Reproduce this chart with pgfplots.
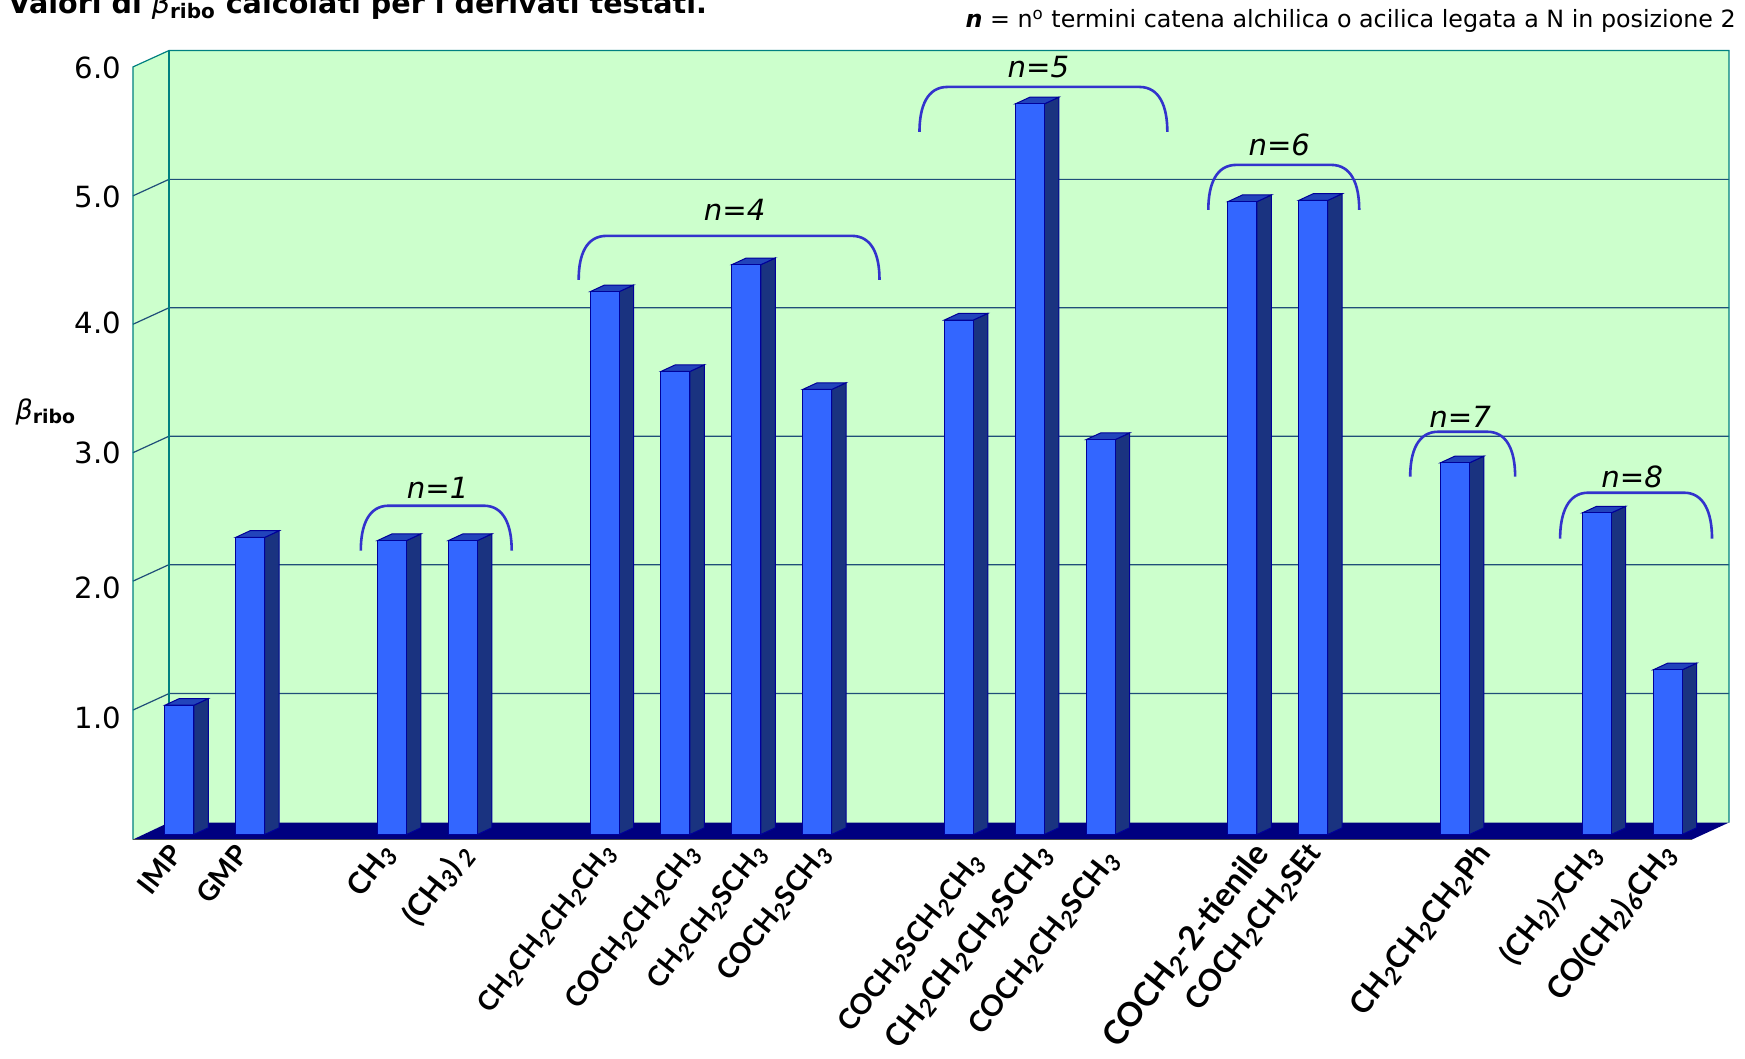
\documentclass[border=0pt]{standalone}
\usepackage{pgfplots}
\pgfplotsset{compat=1.18}
\usepackage{pgfplotstable}
\usepackage{fontspec}
\setmainfont{DejaVu Sans}
\newfontfamily\labfont{Lato}
\definecolor{wallc}{HTML}{CCFFCC}
\definecolor{tealc}{HTML}{008080}
\definecolor{gridc}{HTML}{1F4E79}
\definecolor{floorc}{HTML}{000080}
\definecolor{frontc}{HTML}{3366FF}
\definecolor{sidec}{HTML}{1A3380}
\definecolor{topc}{HTML}{2244BB}
\definecolor{edgec}{HTML}{000099}
\definecolor{brkc}{HTML}{3333CC}
\pgfplotstableread{
x v
0.655 1.005
1.655 2.31
3.655 2.285
4.655 2.285
6.655 4.22
7.655 3.60
8.655 4.43
9.655 3.46
11.655 4.00
12.655 5.68
13.655 3.07
15.655 4.92
16.655 4.93
18.655 2.89
20.655 2.50
21.655 1.28
}\betatable
\newcommand\sidebar[2]{%
 \addplot[draw=edgec,fill=sidec,line width=0.5pt] coordinates {({#1+0.2045},0) ({#1+0.4090},0.052) ({#1+0.4090},{#2+0.052}) ({#1+0.2045},{#2})} -- cycle;
 \addplot[draw=edgec,fill=topc,line width=0.5pt] coordinates {({#1-0.2045},{#2}) ({#1},{#2+0.052}) ({#1+0.4090},{#2+0.052}) ({#1+0.2045},{#2})} -- cycle;
}
\newcommand\s[1]{\raisebox{-0.32ex}{\scalebox{0.78}{\itshape #1}}}
\newcommand\lb[2]{{\labfont\bfseries\fontsize{#1}{#1}\selectfont #2}}
\newcommand\yl[2]{\raisebox{#1}[10.6pt][0pt]{#2}}
\newcommand\brk[6]{%
 \draw[brkc,line width=1.3pt] (#1,#3) .. controls (#1,{#3-26}) and ({#1+8},#4) .. ({#1+28},#4) -- ({#2-28},#4) .. controls ({#2-8},#4) and (#2,{#3-26}) .. (#2,#3);
 \node[font=\fontsize{14.6}{14.6}\selectfont\itshape,inner sep=0pt] at #5 {n=#6};
}
\begin{document}
\begin{tikzpicture}
\useasboundingbox (-66.5pt,-109.7pt) rectangle (806.5pt,420pt);
\begin{scope}[x=0.5pt,y=-0.5pt,shift={(-133,-840)}]
 \fill[wallc] (169,50.6) rectangle (1730,823);
 \fill[wallc] (133,67) -- (169,50.6) -- (169,823) -- (133,840) -- cycle;
 \foreach \yy in {179.5,308,436.5,565,694}{
   \draw[gridc,line width=0.6pt] (133,\yy+16.5) -- (169,\yy) -- (1730,\yy);
 }
 \draw[tealc,line width=0.6pt] (133,840) -- (133,67) -- (169,50.6) -- (1730,50.6) -- (1730,823);
 \draw[tealc,line width=0.8pt] (169,50.6) -- (169,823);
 \fill[floorc] (133,840) -- (1693,840) -- (1730,823) -- (169,823) -- cycle;
 \draw[black!70,line width=0.5pt] (133,840) -- (1693,840);
\end{scope}
\begin{axis}[
 at={(0,0)},anchor=south west,
 scale only axis,width=780pt,height=388.6pt,
 xmin=0,xmax=22,ymin=-0.0389,ymax=6,
 clip=false,
 axis line style={draw=none},
 major tick length=0pt,
 ytick={1,2,3,4,5,6},
 yticklabels={\yl{-3.3pt}{1.0},\yl{-2.8pt}{2.0},\yl{0.5pt}{3.0},\yl{1pt}{4.0},\yl{-0.5pt}{5.0},\yl{0pt}{6.0}},
 yticklabel style={font=\fontsize{14.6}{14.6}\selectfont,xshift=-2.5pt,yshift=-2.5pt},
 xtick={0.60,1.53,3.62,4.70,6.73,7.92,8.86,9.76,12.03,12.88,13.90,15.94,16.69,19.08,20.63,21.68},
 xticklabels={
  \lb{14}{IMP},\lb{14}{GMP},\lb{15}{CH\s{3}},\lb{15.2}{(CH\s{3})\,\s{2}},
  \lb{13.6}{CH\s{2}CH\s{2}CH\s{2}CH\s{3}},
  \lb{14}{COCH\s{2}CH\s{2}CH\s{3}},
  \lb{14}{CH\s{2}CH\s{2}SCH\s{3}},
  \lb{14.2}{COCH\s{2}SCH\s{3}},
  \lb{14.2}{COCH\s{2}SCH\s{2}CH\s{3}\hspace*{5.6pt}},
  \lb{15.4}{CH\s{2}CH\s{2}CH\s{2}SCH\s{3}},
  \lb{14.6}{COCH\s{2}CH\s{2}SCH\s{3}\hspace*{4.2pt}},
  \lb{16.6}{COCH\s{2}-2-tienile},
  \lb{15}{COCH\s{2}CH\s{2}SEt},
  \lb{15.2}{CH\s{2}CH\s{2}CH\s{2}Ph},
  \lb{15}{(CH\s{2})\s{7}CH\s{3}},
  \lb{15.2}{CO(CH\s{2})\s{6}CH\s{3}}
 },
 xticklabel style={rotate=52,anchor=east,yshift=-3pt},
 ylabel={{\itshape β}\textsubscript{\bfseries ribo}},
 every axis y label/.style={at={(axis description cs:-0.0558,0.5507)},anchor=center,font=\fontsize{13.5}{13.5}\selectfont},
 title={{\bfseries Valori di {\mdseries\itshape β}\textsubscript{ribo} calcolati per i derivati testati.}},
 every axis title/.style={at={(axis description cs:-0.0801,1.064)},anchor=base west,inner sep=0pt,font=\fontsize{14.3}{14.3}\selectfont},
]
\sidebar{0.655}{1.005}
\sidebar{1.655}{2.31}
\sidebar{3.655}{2.285}
\sidebar{4.655}{2.285}
\sidebar{6.655}{4.22}
\sidebar{7.655}{3.60}
\sidebar{8.655}{4.43}
\sidebar{9.655}{3.46}
\sidebar{11.655}{4.00}
\sidebar{12.655}{5.68}
\sidebar{13.655}{3.07}
\sidebar{15.655}{4.92}
\sidebar{16.655}{4.93}
\sidebar{18.655}{2.89}
\sidebar{20.655}{2.50}
\sidebar{21.655}{1.28}
\addplot[ybar,bar width=14.5pt,draw=edgec,fill=frontc,line width=0.5pt] table[x=x,y=v] {\betatable};
\end{axis}
\begin{scope}[x=0.5pt,y=-0.5pt,shift={(-133,-840)}]
 \brk{361}{512}{551}{506}{(438,488)}{1}
 \brk{579}{880}{280}{236}{(735,210)}{4}
 \brk{920}{1168}{132}{87}{(1039,67)}{5}
 \brk{1209}{1360}{210}{165}{(1280,145)}{6}
 \brk{1411}{1516}{477}{432}{(1461,417)}{7}
 \brk{1561}{1713}{539}{493}{(1633,477)}{8}
 \node[anchor=base east,inner sep=0pt,font=\fontsize{11.9}{11.9}\selectfont] at (1737,28) {{\bfseries\itshape n} = n\textsuperscript{o} termini catena alchilica o acilica legata a N in posizione 2};
\end{scope}
\end{tikzpicture}
\end{document}
